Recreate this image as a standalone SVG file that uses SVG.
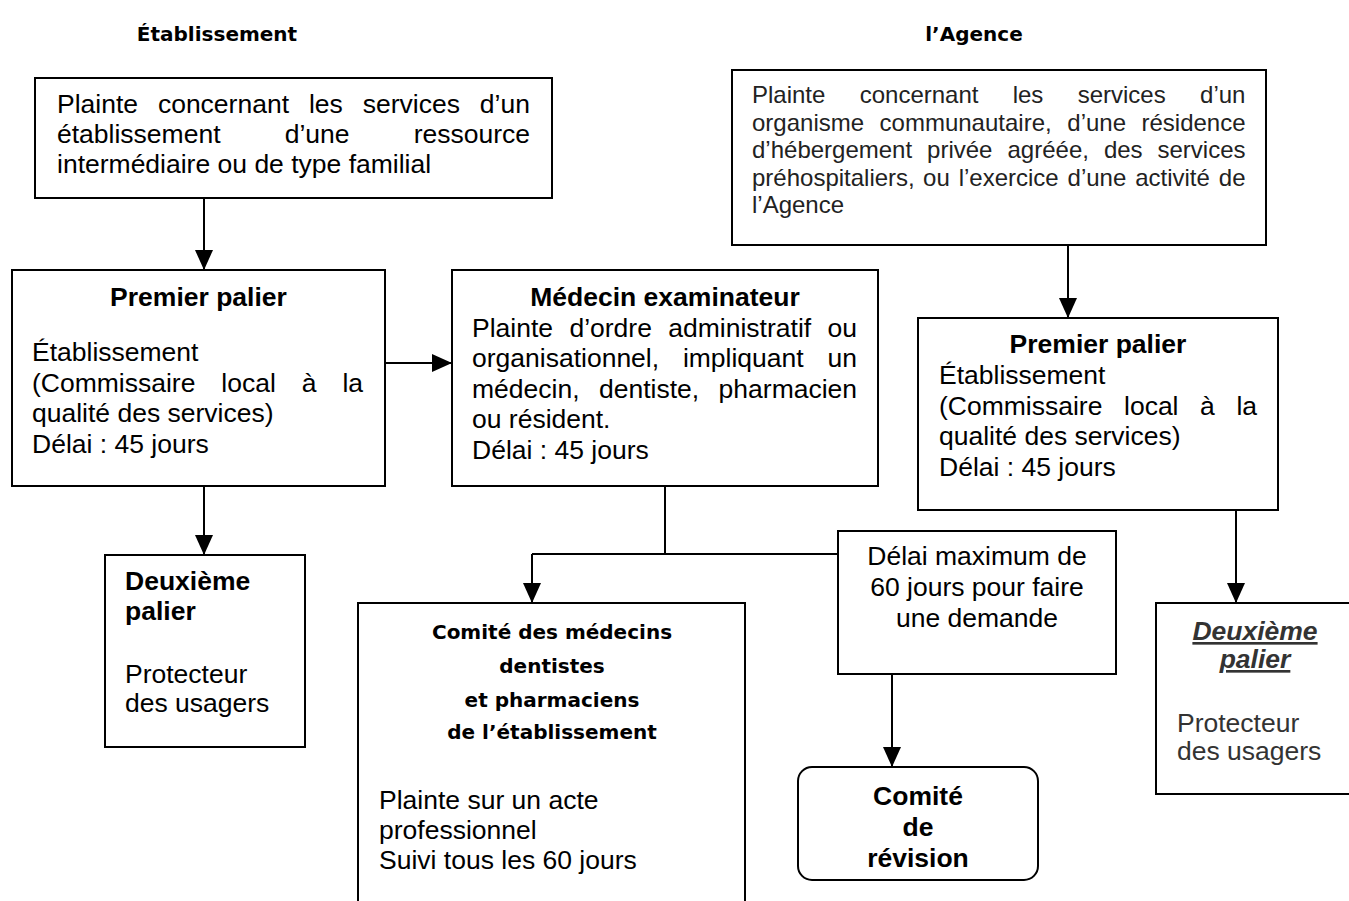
<svg xmlns="http://www.w3.org/2000/svg" width="1349" height="901" viewBox="0 0 1349 901">
<style>
.box{fill:#fff;stroke:#000;stroke-width:2}
.t{font-family:"Liberation Sans",Arial,sans-serif;font-size:26.5px;fill:#000}
.s{font-family:"Liberation Sans",Arial,sans-serif;font-size:24px;fill:#222}
.b{font-weight:bold}
.c{text-anchor:middle}
.comic{font-family:"Comic Sans MS","DejaVu Sans",sans-serif;font-weight:bold;font-size:20px;fill:#000}
.g{fill:#333}
.conn{stroke:#000;stroke-width:2;fill:none}
</style>
<defs>
<marker id="ah" markerUnits="userSpaceOnUse" markerWidth="20" markerHeight="18" refX="20" refY="9" orient="auto">
<path d="M0,0 L20,9 L0,18 z" fill="#000"/>
</marker>
</defs>
<rect width="1349" height="901" fill="#fff"/>

<g id="headers">
<text class="comic" x="217" y="41" text-anchor="middle" font-size="21">Établissement</text>
<text class="comic" x="974" y="41" text-anchor="middle" font-size="21">l’Agence</text>
</g>

<g id="connectors">
<path class="conn" d="M204,198 V270" marker-end="url(#ah)"/>
<path class="conn" d="M385,363 H452" marker-end="url(#ah)"/>
<path class="conn" d="M204,486 V555" marker-end="url(#ah)"/>
<path class="conn" d="M665,486 V554"/>
<path class="conn" d="M532,554 H838"/>
<path class="conn" d="M532,554 V603" marker-end="url(#ah)"/>
<path class="conn" d="M1068,245 V318" marker-end="url(#ah)"/>
<path class="conn" d="M1236,510 V603" marker-end="url(#ah)"/>
<path class="conn" d="M892,674 V767" marker-end="url(#ah)"/>
</g>

<g id="plainte-etablissement">
<rect class="box" x="35" y="78" width="517" height="120"/>
<text class="t" y="113"><tspan x="57">Plainte</tspan><tspan x="157.9">concernant</tspan><tspan x="308.9">les</tspan><tspan x="362.7">services</tspan><tspan x="479.8">d’un</tspan></text>
<text class="t" y="143"><tspan x="57">établissement</tspan><tspan x="284.7">d’une</tspan><tspan x="413.7">ressource</tspan></text>
<text class="t" x="57" y="173">intermédiaire ou de type familial</text>
</g>

<g id="plainte-agence">
<rect class="box" x="732" y="70" width="534" height="175"/>
<text class="s" y="103"><tspan x="752">Plainte</tspan><tspan x="859.7">concernant</tspan><tspan x="1012.7">les</tspan><tspan x="1077.7">services</tspan><tspan x="1200.1">d’un</tspan></text>
<text class="s" y="130.5"><tspan x="752">organisme</tspan><tspan x="879.6">communautaire,</tspan><tspan x="1067.3">d’une</tspan><tspan x="1141.5">résidence</tspan></text>
<text class="s" y="158"><tspan x="752">d’hébergement</tspan><tspan x="927.1">privée</tspan><tspan x="1007.5">agréée,</tspan><tspan x="1103.9">des</tspan><tspan x="1157.5">services</tspan></text>
<text class="s" y="185.5"><tspan x="752">préhospitaliers,</tspan><tspan x="923.1">ou</tspan><tspan x="958.7">l’exercice</tspan><tspan x="1067.6">d’une</tspan><tspan x="1135.2">activité</tspan><tspan x="1218.8">de</tspan></text>
<text class="s" x="752" y="213">l’Agence</text>
</g>

<g id="premier-palier-etablissement">
<rect class="box" x="12" y="270" width="373" height="216"/>
<text class="t b c" x="198.5" y="306">Premier palier</text>
<text class="t" x="32" y="361">Établissement</text>
<text class="t" y="391.5"><tspan x="32">(Commissaire</tspan><tspan x="221.3">local</tspan><tspan x="301.7">à</tspan><tspan x="342.4">la</tspan></text>
<text class="t" x="32" y="422">qualité des services)</text>
<text class="t" x="32" y="452.5">Délai : 45 jours</text>
</g>

<g id="medecin-examinateur">
<rect class="box" x="452" y="270" width="426" height="216"/>
<text class="t b c" x="665" y="306">Médecin examinateur</text>
<text class="t" y="336.5"><tspan x="472">Plainte</tspan><tspan x="569.4">d’ordre</tspan><tspan x="668.3">administratif</tspan><tspan x="827.5">ou</tspan></text>
<text class="t" y="367"><tspan x="472">organisationnel,</tspan><tspan x="682.9">impliquant</tspan><tspan x="827.5">un</tspan></text>
<text class="t" y="397.5"><tspan x="472">médecin,</tspan><tspan x="599">dentiste,</tspan><tspan x="718.6">pharmacien</tspan></text>
<text class="t" x="472" y="428">ou résident.</text>
<text class="t" x="472" y="458.5">Délai : 45 jours</text>
</g>

<g id="premier-palier-agence">
<rect class="box" x="918" y="318" width="360" height="192"/>
<text class="t b c" x="1098" y="353">Premier palier</text>
<text class="t" x="939" y="384">Établissement</text>
<text class="t" y="414.5"><tspan x="939">(Commissaire</tspan><tspan x="1124">local</tspan><tspan x="1200.1">à</tspan><tspan x="1236.4">la</tspan></text>
<text class="t" x="939" y="445">qualité des services)</text>
<text class="t" x="939" y="475.5">Délai : 45 jours</text>
</g>

<g id="deuxieme-palier-etablissement">
<rect class="box" x="105" y="555" width="200" height="192"/>
<text class="t b" x="125" y="590">Deuxième</text>
<text class="t b" x="125" y="620">palier</text>
<text class="t" x="125" y="683">Protecteur</text>
<text class="t" x="125" y="712">des usagers</text>
</g>

<g id="delai-60">
<rect class="box" x="838" y="531" width="278" height="143"/>
<text class="t c" x="977" y="565">Délai maximum de</text>
<text class="t c" x="977" y="596">60 jours pour faire</text>
<text class="t c" x="977" y="627">une demande</text>
</g>

<g id="comite-medecins">
<rect class="box" x="358" y="603" width="387" height="320"/>
<text class="comic c" x="552" y="639">Comité des médecins</text>
<text class="comic c" x="552" y="673">dentistes</text>
<text class="comic c" x="552" y="707">et pharmaciens</text>
<text class="comic c" x="552" y="739">de l’établissement</text>
<text class="t" x="379" y="809">Plainte sur un acte</text>
<text class="t" x="379" y="839">professionnel</text>
<text class="t" x="379" y="869">Suivi tous les 60 jours</text>
</g>

<g id="comite-revision">
<rect class="box" x="798" y="767" width="240" height="113" rx="14" ry="14"/>
<text class="t b c" x="918" y="805">Comité</text>
<text class="t b c" x="918" y="836">de</text>
<text class="t b c" x="918" y="867">révision</text>
</g>

<g id="deuxieme-palier-agence">
<rect class="box" x="1156" y="603" width="210" height="191"/>
<text class="t b c g" x="1255" y="640" font-style="italic" text-decoration="underline">Deuxième</text>
<text class="t b c g" x="1255" y="668" font-style="italic" text-decoration="underline">palier</text>
<text class="t g" x="1177" y="732">Protecteur</text>
<text class="t g" x="1177" y="760">des usagers</text>
</g>
</svg>
